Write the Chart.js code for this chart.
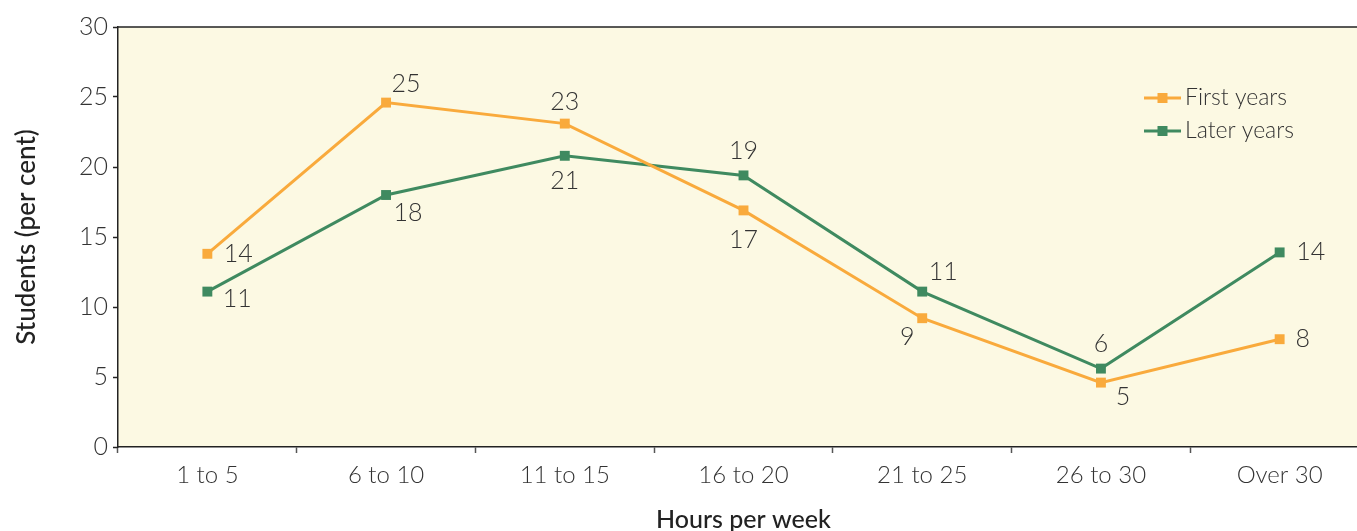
<!DOCTYPE html>
<html>
<head>
<meta charset="utf-8">
<script src="https://cdn.jsdelivr.net/npm/chart.js@4.4.0/dist/chart.umd.min.js"></script>
<style>
  html, body { margin: 0; padding: 0; background: #fff; overflow: hidden; }
  #wrap { width: 1376px; height: 531px; }
</style>
</head>
<body>
<div id="wrap"><canvas id="myChart" width="1376" height="531"></canvas></div>
<script>
const hours = ['1 to 5', '6 to 10', '11 to 15', '16 to 20', '21 to 25', '26 to 30', 'Over 30'];
const firstYears = [13.8, 24.6, 23.1, 16.9, 9.2, 4.6, 7.7];
const laterYears = [11.1, 18.0, 20.8, 19.4, 11.1, 5.6, 13.9];
const yTicks = [0, 5, 10, 15, 20, 25, 30];

// where each value label sits relative to its point (dx, dy)
const firstOffsets = [[31, 0], [20, -19], [0, -22], [0, 30], [-15, 19], [22, 14], [23, 0]];
const laterOffsets = [[30, 7], [22, 18], [0, 25], [0, -24], [21, -20], [0, -25], [31, 0]];

const orange = '#F9AA3C';
const green = '#3F8A60';
const textColor = '#333333';
const fontFam = 'Lato, "Open Sans", sans-serif';

const backdrop = {
    id: 'backdrop',
    beforeDraw(chart) {
        const { ctx, chartArea: a } = chart;
        ctx.save();
        ctx.fillStyle = '#FCF9E3';
        ctx.fillRect(a.left, a.top, a.right - a.left, a.bottom - a.top);
        ctx.strokeStyle = '#222';
        ctx.lineWidth = 1.5;
        ctx.beginPath();
        ctx.moveTo(a.left, a.top);
        ctx.lineTo(a.right, a.top);
        ctx.stroke();
        ctx.restore();
    }
};

const valueLabels = {
    id: 'valueLabels',
    afterDatasetsDraw(chart) {
        const ctx = chart.ctx;
        const offsets = [firstOffsets, laterOffsets];
        ctx.save();
        ctx.font = '300 25px ' + fontFam;
        ctx.fillStyle = textColor;
        ctx.textAlign = 'center';
        ctx.textBaseline = 'middle';
        chart.data.datasets.forEach((ds, di) => {
            chart.getDatasetMeta(di).data.forEach((pt, i) => {
                const o = offsets[di][i];
                ctx.fillText(String(Math.round(ds.data[i])), pt.x + o[0], pt.y + o[1]);
            });
        });
        ctx.restore();
    }
};

const innerLegend = {
    id: 'innerLegend',
    afterDraw(chart) {
        const ctx = chart.ctx;
        const x0 = 1144, x1 = 1181;
        const rows = [98, 131];
        ctx.save();
        chart.data.datasets.forEach((ds, i) => {
            const y = rows[i];
            ctx.strokeStyle = ds.borderColor;
            ctx.lineWidth = 3;
            ctx.beginPath();
            ctx.moveTo(x0, y);
            ctx.lineTo(x1, y);
            ctx.stroke();
            ctx.fillStyle = ds.backgroundColor;
            ctx.fillRect((x0 + x1) / 2 - 5, y - 5, 10, 10);
            ctx.font = '300 23px ' + fontFam;
            ctx.fillStyle = textColor;
            ctx.textAlign = 'left';
            ctx.textBaseline = 'middle';
            ctx.fillText(ds.label, x1 + 4, y);
        });
        ctx.restore();
    }
};

new Chart(document.getElementById('myChart'), {
    type: 'line',
    data: {
        labels: hours,
        datasets: [
            {
                label: 'First years',
                data: firstYears,
                borderColor: orange,
                backgroundColor: orange,
                borderWidth: 3,
                pointStyle: 'rect',
                pointRadius: 7,
                pointBorderWidth: 0,
                tension: 0
            },
            {
                label: 'Later years',
                data: laterYears,
                borderColor: green,
                backgroundColor: green,
                borderWidth: 3,
                pointStyle: 'rect',
                pointRadius: 7,
                pointBorderWidth: 0,
                tension: 0
            }
        ]
    },
    options: {
        responsive: false,
        animation: false,
        devicePixelRatio: 1,
        layout: { padding: { top: 27, left: 0, right: 0, bottom: 0 } },
        plugins: {
            legend: { display: false },
            tooltip: { enabled: false }
        },
        scales: {
            x: {
                offset: true,
                afterFit(scale) { scale.height = 84; },
                grid: {
                    offset: true,
                    drawOnChartArea: false,
                    tickLength: 6,
                    tickColor: '#555',
                    tickWidth: 1.5
                },
                border: { color: '#222', width: 1.5 },
                ticks: {
                    padding: 8,
                    color: textColor,
                    font: { family: fontFam, size: 24, weight: '300' },
                    maxRotation: 0
                },
                title: {
                    display: true,
                    text: 'Hours per week',
                    color: '#222',
                    font: { family: fontFam, size: 25, weight: '500' },
                    padding: { top: 0, bottom: -4 }
                }
            },
            y: {
                min: 0,
                max: 30,
                afterFit(scale) { scale.width = 118; },
                afterBuildTicks(scale) { scale.ticks = yTicks.map(v => ({ value: v })); },
                grid: {
                    drawOnChartArea: false,
                    tickLength: 5,
                    tickColor: '#222',
                    tickWidth: 1.5
                },
                border: { color: '#222', width: 1.5 },
                ticks: {
                    padding: 5,
                    color: textColor,
                    font: { family: fontFam, size: 25, weight: '300' }
                },
                title: {
                    display: true,
                    text: 'Students (per cent)',
                    color: '#222',
                    font: { family: fontFam, size: 26, weight: '500' },
                    padding: { top: 11, bottom: 0 }
                }
            }
        }
    },
    plugins: [backdrop, valueLabels, innerLegend]
});
</script>
</body>
</html>
